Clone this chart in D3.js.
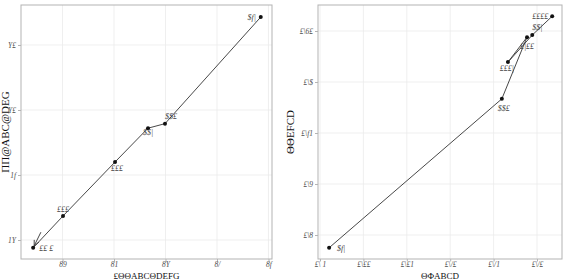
<!DOCTYPE html>
<html><head><meta charset="utf-8">
<script src="https://cdn.jsdelivr.net/npm/d3@7"></script>
<style>body{margin:0;background:#fff;}svg{display:block;}</style>
</head><body><svg id="c" width="567" height="280"></svg>
<script>
// ---- Left panel data ----
const leftXTicks = [1, 2, 3, 4, 5];
const leftXTickLabels = ["89", "81", "8Y", "8/", "8f"];
const leftYTicks = [1, 2, 3, 4];
const leftYTickLabels = ["1Y", "1f", "Y£", "Y£"];
const leftX = [0.43, 1.01, 2.02, 2.66, 2.99, 4.85];
const leftY = [0.88, 1.37, 2.20, 2.72, 2.79, 4.43];
const leftLabels = ["££ £", "£££", "£££", "$$|", "$$£", "$f|"];
const leftArrow = {x1: 0.58, y1: 1.12, x2: 0.45, y2: 0.91};
const leftXTitle = "£ΘΘABCΘDEFG";
const leftYTitle = "ΠΠ@ABC@DEG";

// ---- Right panel data ----
const rightXTicks = [0, 1, 2, 3, 4, 5];
const rightXTickLabels = ["£\\ 1", "£\\££", "£\\£1", "£\\/£", "£\\/1", "£\\/£"];
const rightYTicks = [0, 1, 2, 3, 4];
const rightYTickLabels = ["£\\8", "£\\9", "£\\f1", "£\\$", "£\\6£"];
const rightX = [0.21, 4.19, 4.77, 4.33, 4.89, 5.35];
const rightY = [-0.25, 2.67, 3.88, 3.39, 3.92, 4.29];
const rightLabels = ["$f|", "$$£", "£|££", "£££|", "$$|", "££££"];
const rightXTitle = "ΘΦABCD";
const rightYTitle = "ΘΘEFCD";

// label offsets (layout only)
const leftOff = [[13,3],[0,-4],[2,9],[0,7],[6,-5],[-9,3]];
const rightOff = [[12,3],[2,12],[0,12],[-1,9],[5,-5],[-12,3]];

const svg = d3.select("#c");
const gridC = "#ebebeb", borderC = "#b3b3b3", tickC = "#b3b3b3", txtC = "#4d4d4d";

function panel(o) {
  const g = svg.append("g");
  const x = d3.scaleLinear().domain(o.xd).range([o.l, o.r]);
  const y = d3.scaleLinear().domain(o.yd).range([o.b, o.t]);
  g.selectAll(".vg").data(o.xt).join("line")
    .attr("x1", d => x(d)).attr("x2", d => x(d)).attr("y1", o.t).attr("y2", o.b)
    .attr("stroke", gridC).attr("stroke-width", 0.8);
  g.selectAll(".hg").data(o.yt).join("line")
    .attr("y1", d => y(d)).attr("y2", d => y(d)).attr("x1", o.l).attr("x2", o.r)
    .attr("stroke", gridC).attr("stroke-width", 0.8);
  const xa = g.append("g").attr("transform", `translate(0,${o.b})`)
    .call(d3.axisBottom(x).tickValues(o.xt).tickFormat((d,i) => o.xl[i]).tickSize(2.5).tickPadding(0.5));
  const ya = g.append("g").attr("transform", `translate(${o.l},0)`)
    .call(d3.axisLeft(y).tickValues(o.yt).tickFormat((d,i) => o.yl[i]).tickSize(3).tickPadding(2));
  [xa, ya].forEach(a => {
    a.select(".domain").remove();
    a.selectAll(".tick line").attr("stroke", tickC);
    a.selectAll(".tick text").attr("fill", txtC).style("font-family", "Liberation Serif")
      .style("font-style", "italic").style("font-size", "7.5px");
  });
  g.append("rect").attr("x", o.l).attr("y", o.t).attr("width", o.r - o.l).attr("height", o.b - o.t)
    .attr("fill", "none").attr("stroke", borderC).attr("stroke-width", 1);
  const pts = o.xs.map((v, i) => [v, o.ys[i]]);
  g.append("path").attr("d", d3.line().x(d => x(d[0])).y(d => y(d[1]))(pts))
    .attr("fill", "none").attr("stroke", "#333").attr("stroke-width", 0.9);
  if (o.arrow) {
    const a = o.arrow;
    const x1 = x(a.x1), y1 = y(a.y1), x2 = x(a.x2), y2 = y(a.y2);
    g.append("line").attr("x1", x1).attr("y1", y1).attr("x2", x2).attr("y2", y2)
      .attr("stroke", "#333").attr("stroke-width", 0.9);
    const ang = Math.atan2(y2 - y1, x2 - x1), L = 6;
    [0.45, -0.45].forEach(s => {
      g.append("line").attr("x1", x2).attr("y1", y2)
        .attr("x2", x2 - L * Math.cos(ang + s)).attr("y2", y2 - L * Math.sin(ang + s))
        .attr("stroke", "#333").attr("stroke-width", 0.9);
    });
  }
  g.selectAll(".pt").data(pts).join("circle")
    .attr("cx", d => x(d[0])).attr("cy", d => y(d[1])).attr("r", 2).attr("fill", "#111");
  g.selectAll(".lb").data(pts).join("text")
    .attr("x", (d, i) => x(d[0]) + o.off[i][0]).attr("y", (d, i) => y(d[1]) + o.off[i][1])
    .attr("text-anchor", "middle").attr("fill", "#444")
    .style("font-family", "Liberation Serif").style("font-style", "italic").style("font-size", "8px")
    .text((d, i) => o.lab[i]);
  svg.append("text").attr("x", (o.l + o.r) / 2).attr("y", 278.5).attr("text-anchor", "middle")
    .style("font-family", "Liberation Serif").style("font-size", "9px").attr("fill", "#111").text(o.xtitle);
  svg.append("text").attr("transform", `translate(${o.ytx},${(o.t + o.b) / 2}) rotate(-90)`)
    .attr("text-anchor", "middle").style("font-family", "Liberation Serif").style("font-size", "11px")
    .attr("fill", "#111").text(o.ytitle);
}

panel({l: 21, r: 272, t: 5, b: 259, xd: [0.194, 5.068], yd: [0.708, 4.615],
  xt: leftXTicks, xl: leftXTickLabels, yt: leftYTicks, yl: leftYTickLabels,
  xs: leftX, ys: leftY, lab: leftLabels, off: leftOff, arrow: leftArrow,
  xtitle: leftXTitle, ytitle: leftYTitle, ytx: 9});

panel({l: 318, r: 562, t: 5, b: 259, xd: [-0.046, 5.576], yd: [-0.47, 4.51],
  xt: rightXTicks, xl: rightXTickLabels, yt: rightYTicks, yl: rightYTickLabels,
  xs: rightX, ys: rightY, lab: rightLabels, off: rightOff,
  xtitle: rightXTitle, ytitle: rightYTitle, ytx: 294});
</script></body></html>
